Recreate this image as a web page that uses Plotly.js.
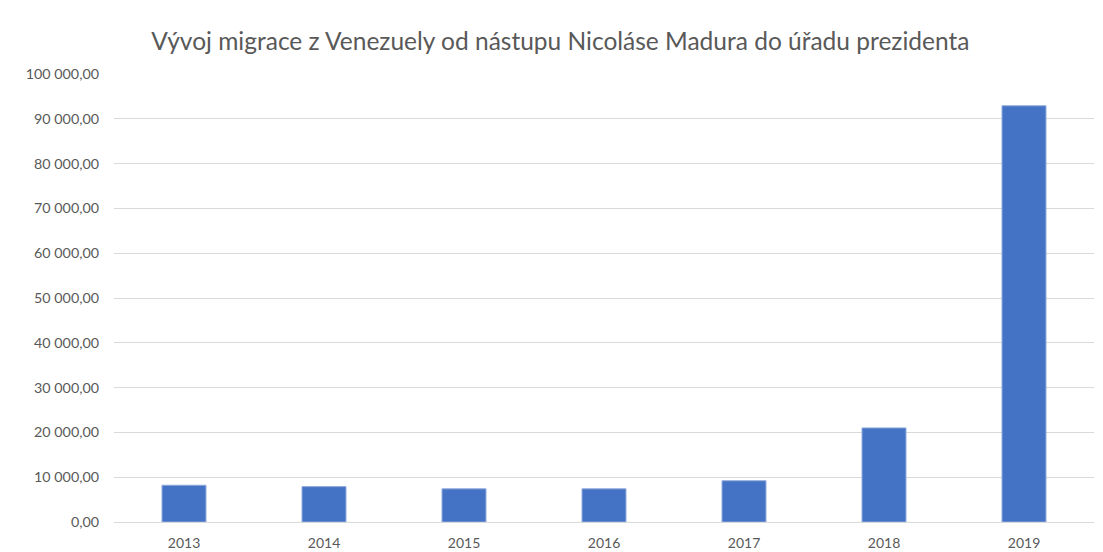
<!DOCTYPE html>
<html>
<head>
<meta charset="utf-8">
<script src="https://cdn.plot.ly/plotly-3.0.1.min.js"></script>
<style>html,body{margin:0;padding:0;background:#fff;}#chart{width:1103px;height:552px;}</style>
</head>
<body>
<div id="chart"></div>
<script>
const years = ["2013", "2014", "2015", "2016", "2017", "2018", "2019"];
const migrants = [8200, 7900, 7400, 7400, 9200, 21000, 92900];
const yTicks = [0, 10000, 20000, 30000, 40000, 50000, 60000, 70000, 80000, 90000, 100000];

Plotly.newPlot("chart", [{
  type: "bar",
  x: years,
  y: migrants,
  marker: {color: "#4472C4", line: {color: "#8EA9DB", width: 1}},
  hoverinfo: "x+y"
}], {
  width: 1103, height: 552,
  margin: {l: 114, r: 9, t: 74, b: 30},
  paper_bgcolor: "#ffffff", plot_bgcolor: "#ffffff",
  separators: ", ",
  bargap: 0.686,
  font: {family: "Lato, 'Open Sans', sans-serif", color: "#595959", size: 14},
  title: {text: "Vývoj migrace z Venezuely od nástupu Nicoláse Madura do úřadu prezidenta",
          font: {family: "Lato, sans-serif", size: 24.5, color: "#595959"},
          x: 0.508, xanchor: "center", y: 0.925, yanchor: "middle"},
  xaxis: {type: "category", showgrid: false, showline: true, linecolor: "#d9d9d9", linewidth: 1,
          ticks: "", ticklabelstandoff: 8, tickfont: {size: 14, color: "#595959"}, zeroline: false},
  yaxis: {range: [0, 100000], tickvals: yTicks, tickformat: ",.2f", showgrid: true,
          gridcolor: "#d9d9d9", gridwidth: 1, zeroline: false, showline: false,
          ticks: "", ticklen: 0, ticklabelstandoff: 14, tickfont: {size: 14.3, color: "#595959"}, automargin: false},
  showlegend: false
}, {displayModeBar: false, staticPlot: false});
</script>
</body>
</html>
